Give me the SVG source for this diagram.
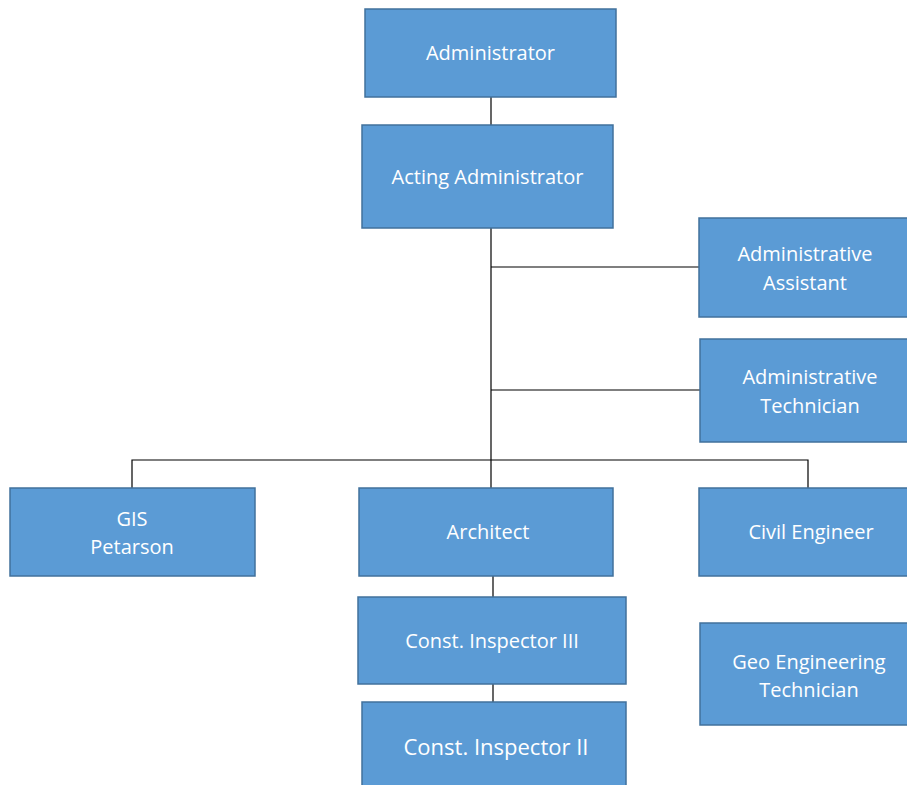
<svg xmlns="http://www.w3.org/2000/svg" width="907" height="785" viewBox="0 0 907 785">
  <style>
    .box { fill: #5B9BD5; stroke: #41719C; stroke-width: 1.5; }
    .lbl { fill: #FFFFFF; font-family: "Open Sans", "Liberation Sans", sans-serif; font-size: 20px; text-anchor: middle; }
    .big { font-size: 22px; }
    .wire { stroke: #000000; stroke-width: 1.2; fill: none; }
  </style>
  <rect width="907" height="785" fill="#FFFFFF"/>

  <g id="connectors">
    <line class="wire" x1="491" y1="97" x2="491" y2="125"/>
    <line class="wire" x1="491" y1="228" x2="491" y2="460"/>
    <line class="wire" x1="491" y1="267" x2="699" y2="267"/>
    <line class="wire" x1="491" y1="390" x2="700" y2="390"/>
    <polyline class="wire" points="132,488 132,460 808,460 808,488"/>
    <line class="wire" x1="491" y1="460" x2="491" y2="488"/>
    <line class="wire" x1="493" y1="576" x2="493" y2="597"/>
    <line class="wire" x1="493" y1="684" x2="493" y2="702"/>
  </g>

  <g id="administrator">
    <rect class="box" x="365" y="9" width="251" height="88"/>
    <text class="lbl" x="490.5" y="60">Administrator</text>
  </g>
  <g id="acting-administrator">
    <rect class="box" x="362" y="125" width="251" height="103"/>
    <text class="lbl" x="487.5" y="184">Acting Administrator</text>
  </g>
  <g id="administrative-assistant">
    <rect class="box" x="699" y="218" width="215" height="99"/>
    <text class="lbl" x="805" y="261">Administrative</text>
    <text class="lbl" x="805" y="290">Assistant</text>
  </g>
  <g id="administrative-technician">
    <rect class="box" x="700" y="339" width="214" height="103"/>
    <text class="lbl" x="810" y="384">Administrative</text>
    <text class="lbl" x="810" y="413">Technician</text>
  </g>
  <g id="gis">
    <rect class="box" x="10" y="488" width="245" height="88"/>
    <text class="lbl" x="132" y="526">GIS</text>
    <text class="lbl" x="132" y="554">Petarson</text>
  </g>
  <g id="architect">
    <rect class="box" x="359" y="488" width="254" height="88"/>
    <text class="lbl" x="488" y="539">Architect</text>
  </g>
  <g id="civil-engineer">
    <rect class="box" x="699" y="488" width="215" height="88"/>
    <text class="lbl" x="811" y="539">Civil Engineer</text>
  </g>
  <g id="const-inspector-3">
    <rect class="box" x="358" y="597" width="268" height="87"/>
    <text class="lbl" x="492" y="648">Const. Inspector III</text>
  </g>
  <g id="geo-engineering-technician">
    <rect class="box" x="700" y="623" width="214" height="102"/>
    <text class="lbl" x="809" y="669">Geo Engineering</text>
    <text class="lbl" x="809" y="697">Technician</text>
  </g>
  <g id="const-inspector-2">
    <rect class="box" x="362" y="702" width="264" height="95"/>
    <text class="big lbl" x="496" y="755">Const. Inspector II</text>
  </g>
</svg>
